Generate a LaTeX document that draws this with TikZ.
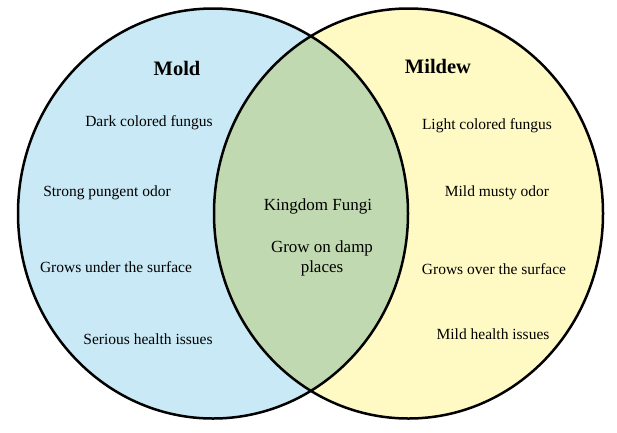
\documentclass[tikz,border=0pt]{standalone}
\usepackage{fontspec}
\setmainfont{Liberation Serif}
\definecolor{moldblue}{RGB}{200,233,245}
\definecolor{mildewyellow}{RGB}{255,250,196}
\definecolor{commongreen}{RGB}{193,217,176}
\begin{document}
\begin{tikzpicture}[x=1pt,y=-1pt,
  outline/.style={draw=black,line width=2.5pt},
  sidetext/.style={font=\fontsize{15.5}{18}\selectfont,inner sep=0pt},
  headtext/.style={font=\fontsize{20.5}{24}\selectfont\bfseries,inner sep=0pt},
  midtext/.style={font=\fontsize{17}{20}\selectfont,inner sep=0pt,align=center}]
\useasboundingbox[fill=white] (0,0) rectangle (617,432);
\coordinate (cl) at (213,213.5);
\coordinate (cr) at (408.5,213.5);
\fill[moldblue] (cl) ellipse [x radius=195pt, y radius=205pt];
\fill[mildewyellow] (cr) ellipse [x radius=194.5pt, y radius=205pt];
\begin{scope}
  \clip (cl) ellipse [x radius=195pt, y radius=205pt];
  \fill[commongreen] (cr) ellipse [x radius=194.5pt, y radius=205pt];
\end{scope}
\draw[outline] (cl) ellipse [x radius=195pt, y radius=205pt];
\draw[outline] (cr) ellipse [x radius=194.5pt, y radius=205pt];
\node[headtext] (mold) at (177,68) {Mold};
\node[headtext] (mildew) at (438,66) {Mildew};
\node[sidetext] (l1) at (149,123) {Dark colored fungus};
\node[sidetext] (l2) at (107,193) {Strong pungent odor};
\node[sidetext] (l3) at (116,267) {Grows under the surface};
\node[sidetext] (l4) at (148,339) {Serious health issues};
\node[midtext] (m1) at (318,206) {Kingdom Fungi};
\node[midtext] (m2) at (322,258) {Grow on damp\\places};
\node[sidetext] (r1) at (487,126) {Light colored fungus};
\node[sidetext] (r2) at (497,193) {Mild musty odor};
\node[sidetext] (r3) at (494,269) {Grows over the surface};
\node[sidetext] (r4) at (493,334) {Mild health issues};
\end{tikzpicture}
\end{document}
